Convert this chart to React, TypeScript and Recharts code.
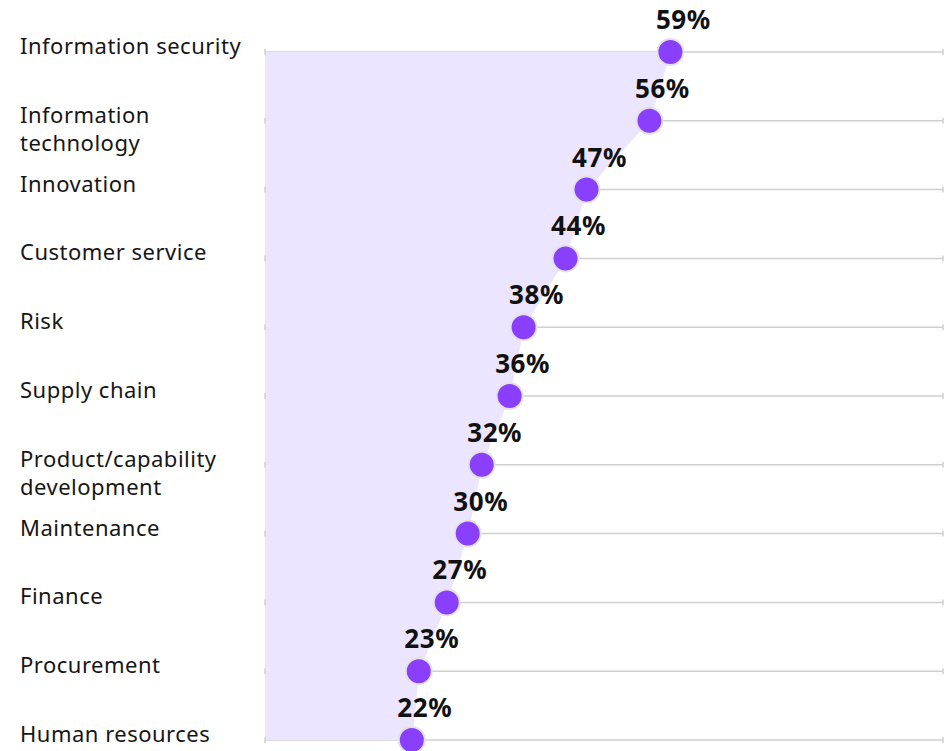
import React from 'react';
import { ComposedChart, Area, XAxis, YAxis, CartesianGrid, LabelList } from 'recharts';

// ── Data ──────────────────────────────────────────────────────────────────────

const categories = [
  'Information security',
  'Information technology',
  'Innovation',
  'Customer service',
  'Risk',
  'Supply chain',
  'Product/capability development',
  'Maintenance',
  'Finance',
  'Procurement',
  'Human resources',
];

const shares = [59, 56, 47, 44, 38, 36, 32, 30, 27, 23, 22];

const valueDomain = [1, 98];

const data = categories.map((name, i) => ({ name, value: shares[i] }));

// ── Layout / style ────────────────────────────────────────────────────────────

const W = 950;
const H = 751;
const PLOT_LEFT = 265;
const PLOT_RIGHT = 943;
const FONT = '"Noto Sans", "Open Sans", sans-serif';
const PURPLE = '#8a3ffc';
const LAVENDER = '#ece5ff';
const GRID = '#d0d0d0';

// wrap long category names into lines of ~20 chars
function wrap(label: string, max = 20): string[] {
  const words = label.split(' ');
  const lines: string[] = [];
  let cur = '';
  for (const w of words) {
    const next = cur ? cur + ' ' + w : w;
    if (next.length > max && cur) {
      lines.push(cur);
      cur = w;
    } else {
      cur = next;
    }
  }
  if (cur) lines.push(cur);
  return lines;
}

function CategoryTick(props: any) {
  const { y, payload } = props;
  const lines = wrap(String(payload.value));
  return (
    <g>
      <text
        x={20}
        y={y + 2}
        fill="#161616"
        fontSize={22}
        letterSpacing={0.5}
        fontFamily={FONT}
        textAnchor="start"
      >
        {lines.map((l, i) => (
          <tspan key={i} x={20} dy={i === 0 ? 0 : 28}>
            {l}
          </tspan>
        ))}
      </text>
      {/* little end caps on each grid line */}
      <line x1={PLOT_LEFT} x2={PLOT_LEFT} y1={y - 3} y2={y + 3} stroke={GRID} strokeWidth={1.5} />
      <line x1={PLOT_RIGHT} x2={PLOT_RIGHT} y1={y - 3} y2={y + 3} stroke={GRID} strokeWidth={1.5} />
    </g>
  );
}

export default function App() {
  return (
    <div style={{ position: 'absolute', left: 0, top: 0, width: W, height: H, background: '#fff' }}>
      <ComposedChart
        width={W}
        height={H}
        data={data}
        layout="vertical"
        margin={{ top: 52, right: W - PLOT_RIGHT, bottom: 11, left: 0 }}
      >
        <CartesianGrid horizontal vertical={false} stroke={GRID} strokeWidth={1.5} />
        <XAxis type="number" domain={valueDomain} hide allowDataOverflow />
        <YAxis
          type="category"
          dataKey="name"
          scale="point"
          padding={{ top: 0, bottom: 0 }}
          width={PLOT_LEFT}
          axisLine={false}
          tickLine={false}
          interval={0}
          tick={<CategoryTick />}
        />
        <Area
          dataKey="value"
          type="linear"
          fill={LAVENDER}
          fillOpacity={1}
          stroke={LAVENDER}
          strokeWidth={1}
          isAnimationActive={false}
          dot={{ r: 13, fill: PURPLE, fillOpacity: 1, stroke: '#e2e2e2', strokeWidth: 2 }}
        >
          <LabelList
            dataKey="value"
            position="top"
            offset={23}
            dx={13}
            formatter={(v: any) => `${v}%`}
            fill="#111"
            fontSize={26}
            fontWeight={700}
            letterSpacing={0.6}
            fontFamily={FONT}
          />
        </Area>
      </ComposedChart>
    </div>
  );
}
